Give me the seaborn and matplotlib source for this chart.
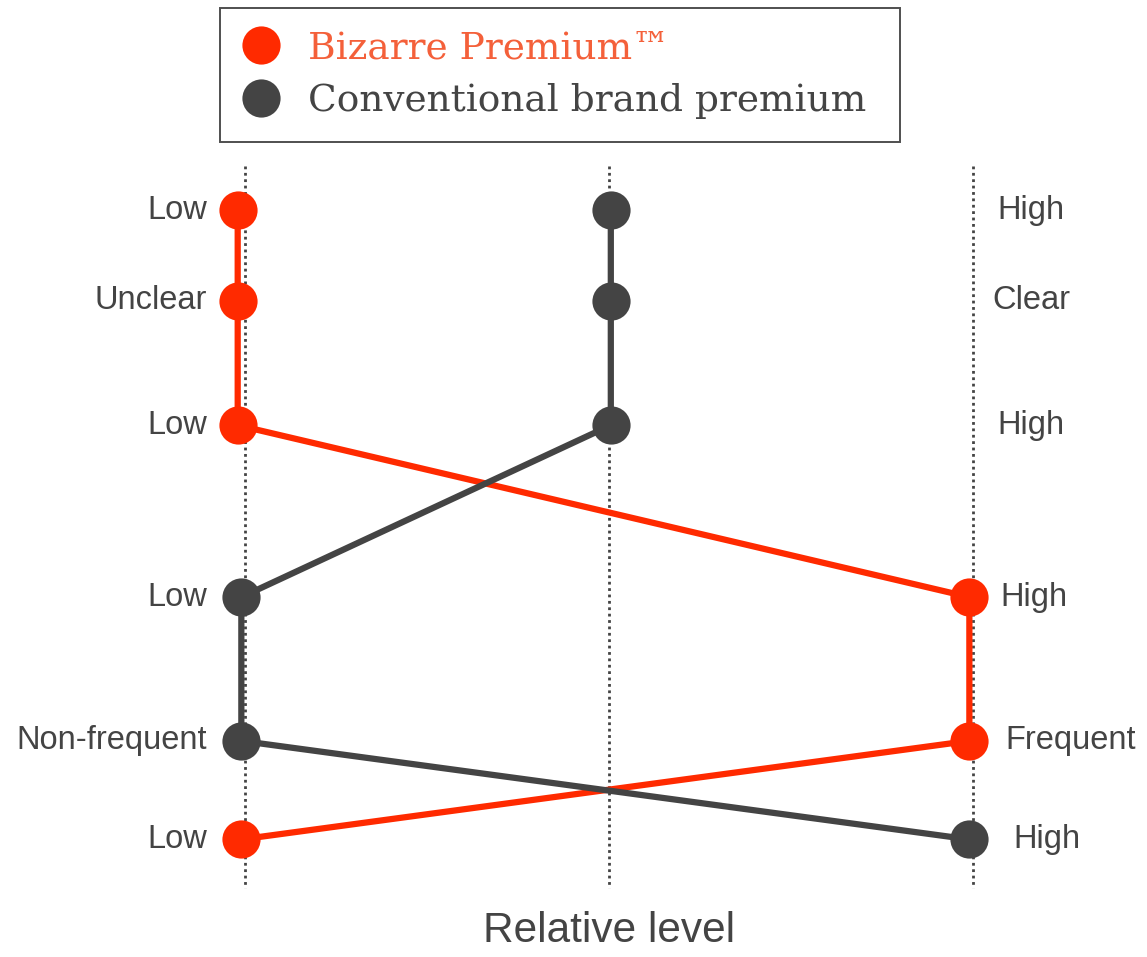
import matplotlib
matplotlib.use("Agg")
import matplotlib.pyplot as plt
from matplotlib.lines import Line2D
import pandas as pd
import seaborn as sns

# Attribute rows, from top to bottom (vertical spacing of each row)
row_pos = [0.00, 0.90, 2.14, 3.85, 5.28, 6.26]
left_labels = ["Low", "Unclear", "Low", "Low", "Non-frequent", "Low"]
right_labels = ["High", "Clear", "High", "High", "Frequent", "High"]

# Relative level on each row (0 = left pole, 1 = middle, 2 = right pole)
bizarre_level = [-0.02, -0.02, -0.02, 1.99, 1.99, -0.01]
conventional_level = [1.005, 1.005, 1.005, -0.01, -0.01, 1.99]

series_names = ["Bizarre Premium\u2122", "Conventional brand premium"]
RED = "#ff2a00"
DARK = "#444444"
LEGEND_RED = "#f4603a"

df = pd.DataFrame({
    "level": bizarre_level + conventional_level,
    "row": row_pos + row_pos,
    "series": [series_names[0]] * len(row_pos) + [series_names[1]] * len(row_pos),
})

sns.set_theme(style="white")
plt.rcParams["font.family"] = ["Liberation Sans", "DejaVu Sans"]

fig = plt.figure(figsize=(11.47, 9.57), dpi=100)
ax = fig.add_axes([0, 0, 1, 1])

# dotted guides for the three relative levels
for gx in [0, 1, 2]:
    ax.plot([gx, gx], [-0.44, 6.74], linestyle=(0, (1, 1.3)), color=DARK,
            linewidth=2.0, zorder=1)

sns.lineplot(data=df, x="level", y="row", hue="series", sort=False,
             estimator=None, palette=[RED, DARK], linewidth=4.5,
             marker="o", markersize=27.5, markeredgewidth=0,
             legend=False, ax=ax, zorder=3)

label_kw = dict(fontsize=23.5, color=DARK, va="center")
for y, lab in zip(row_pos, left_labels):
    ax.text(-0.105, y, lab, ha="right", **label_kw)

right_x = [2.16, 2.16, 2.16, 2.075, 2.09, 2.11]
right_ha = ["center", "center", "center", "left", "left", "left"]
for y, lab, rx, ha in zip(row_pos, right_labels, right_x, right_ha):
    ax.text(rx, y, lab, ha=ha, **label_kw)

ax.text(1, 7.17, "Relative level", ha="center", va="center",
        fontsize=30.5, color=DARK)

ax.set_xlim(-0.673, 2.478)
ax.set_ylim(7.43, -2.09)
ax.axis("off")

handles = [
    Line2D([], [], marker="o", linestyle="none", markersize=27.5,
           markerfacecolor=c, markeredgewidth=0)
    for c in [RED, DARK]
]
leg = ax.legend(handles, series_names, loc="upper left",
                bbox_to_anchor=(220 / 1147, 1 - 8 / 957, 680 / 1147, 0.0),
                bbox_transform=fig.transFigure, mode="expand",
                borderaxespad=0, frameon=True, fancybox=False,
                prop={"family": "DejaVu Serif", "size": 27},
                handletextpad=0.75, handlelength=1.0, labelspacing=0.45,
                borderpad=0.6)
leg.get_frame().set_edgecolor("#222222")
leg.get_frame().set_linewidth(1.4)
for txt, c in zip(leg.get_texts(), [LEGEND_RED, DARK]):
    txt.set_color(c)

fig.savefig("out.png", dpi=100, facecolor="white")
